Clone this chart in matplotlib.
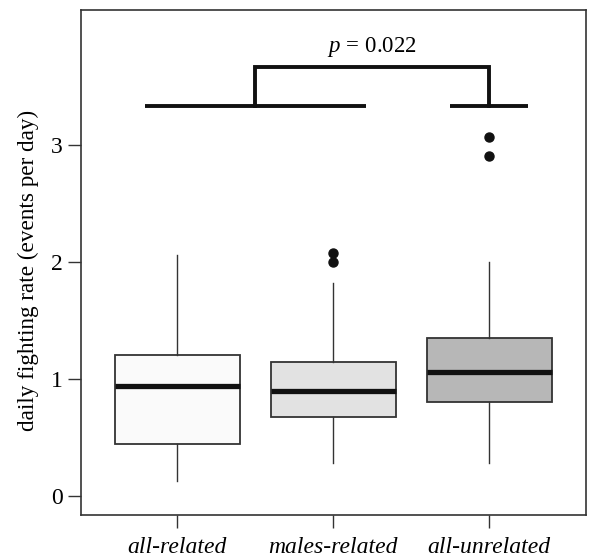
import matplotlib
matplotlib.use("Agg")
import matplotlib.pyplot as plt

plt.rcParams['font.family'] = ['Liberation Serif', 'DejaVu Serif']
plt.rcParams['mathtext.fontset'] = 'custom'
plt.rcParams['mathtext.rm'] = 'Liberation Serif'
plt.rcParams['mathtext.it'] = 'Liberation Serif:italic'

groups = ['all-related', 'males-related', 'all-unrelated']
whislo = [0.13, 0.29, 0.29]
q1 = [0.45, 0.68, 0.81]
med = [0.94, 0.90, 1.06]
q3 = [1.21, 1.15, 1.35]
whishi = [2.06, 1.82, 2.00]
fliers = [[], [2.00, 2.08], [2.91, 3.07]]
fills = ['#fafafa', '#e2e2e2', '#b7b7b7']

stats = []
for i, g in enumerate(groups):
    stats.append(dict(label=g, whislo=whislo[i], q1=q1[i], med=med[i],
                      q3=q3[i], whishi=whishi[i], fliers=fliers[i]))

fig = plt.figure(figsize=(5.9, 5.6), dpi=100)
ax = fig.add_axes([0.137, 0.080, 0.856, 0.903])

edge = '#333333'
bp = ax.bxp(stats, positions=[1, 2, 3], widths=0.8, patch_artist=True,
            showcaps=False,
            boxprops=dict(edgecolor=edge, linewidth=1.3),
            whiskerprops=dict(color=edge, linewidth=1.0),
            medianprops=dict(color='#111111', linewidth=3.8, solid_capstyle='butt'),
            flierprops=dict(marker='o', markerfacecolor='#111111',
                            markeredgecolor='#111111', markersize=6.5))
for patch, c in zip(bp['boxes'], fills):
    patch.set_facecolor(c)

# significance bracket
lw = 2.8
ax.plot([0.79, 2.21], [3.335, 3.335], color='#111111', lw=lw, solid_capstyle='butt')
ax.plot([2.75, 3.25], [3.335, 3.335], color='#111111', lw=lw, solid_capstyle='butt')
ax.plot([1.5, 1.5, 3.0, 3.0], [3.335, 3.665, 3.665, 3.335], color='#111111',
        lw=lw, solid_joinstyle='miter')
ax.text(2.25, 3.74, r'$p\,=\,$0.022', ha='center', va='bottom', fontsize=16.5)

ax.set_xlim(0.38, 3.62)
ax.set_ylim(-0.16, 4.16)
ax.set_yticks([0, 1, 2, 3])
ax.set_xticks([1, 2, 3])
ax.set_xticklabels(groups, fontstyle='italic')
ax.tick_params(axis='both', length=9.5, width=1.0, color=edge, labelsize=17, pad=3.5)
ax.tick_params(axis='x', pad=6)
ax.set_ylabel('daily fighting rate (events per day)', fontsize=16.7)
ax.yaxis.set_label_coords(-0.082, 0.484)
for s in ax.spines.values():
    s.set_color(edge)
    s.set_linewidth(1.2)

fig.savefig('out.png', dpi=100)
